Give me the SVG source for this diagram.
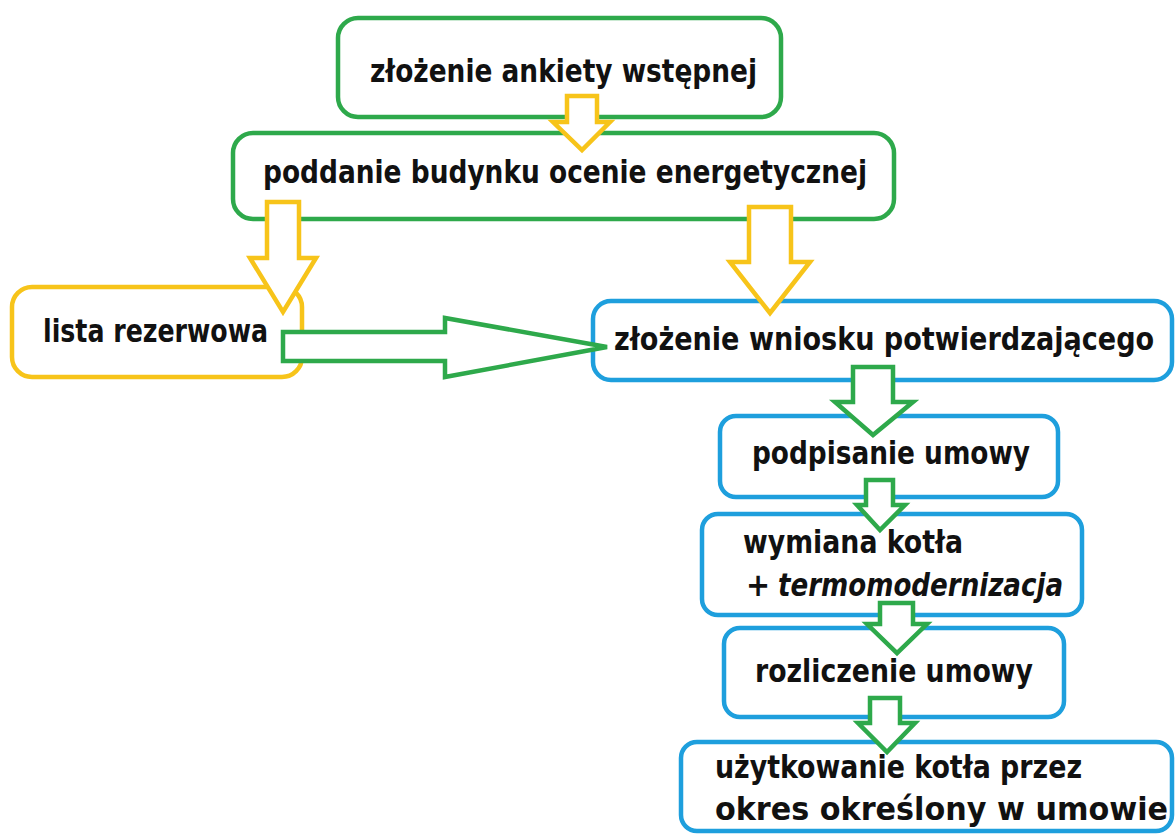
<svg xmlns="http://www.w3.org/2000/svg" width="1176" height="835" viewBox="0 0 1176 835">
<style>
  .box { fill: #ffffff; stroke-width: 4.5; }
  .g { stroke: #2ea94b; }
  .y { stroke: #f7c41a; }
  .b { stroke: #1e9fdd; }
  .arr { fill: #ffffff; stroke-width: 4.5; stroke-linejoin: miter; }
  .t { font-family: "DejaVu Sans Condensed", "DejaVu Sans", sans-serif; font-stretch: condensed; font-weight: bold; font-size: 32px; fill: #111111; }
  .it { font-style: italic; }
</style>
<rect width="1176" height="835" fill="#ffffff"/>

<g id="node-ankieta">
  <rect class="box g" x="338" y="18" width="443" height="99" rx="20"/>
  <text class="t" x="370" y="82" textLength="387" lengthAdjust="spacingAndGlyphs">złożenie ankiety wstępnej</text>
</g>
<g id="node-ocena">
  <rect class="box g" x="233" y="133" width="661" height="86" rx="20"/>
  <text class="t" x="263" y="183" textLength="604" lengthAdjust="spacingAndGlyphs">poddanie budynku ocenie energetycznej</text>
</g>
<g id="node-lista">
  <rect class="box y" x="12" y="287" width="290" height="90" rx="20"/>
  <text class="t" x="43" y="342" textLength="225" lengthAdjust="spacingAndGlyphs">lista rezerwowa</text>
</g>
<g id="node-wniosek">
  <rect class="box b" x="593" y="301" width="579" height="79" rx="18"/>
  <text class="t" transform="translate(614,350) scale(0.848,1)" x="0" y="0" textLength="637" lengthAdjust="spacingAndGlyphs">złożenie wniosku potwierdzającego</text>
</g>
<g id="node-umowa">
  <rect class="box b" x="720" y="416" width="338" height="81" rx="16"/>
  <text class="t" x="752" y="464" textLength="278" lengthAdjust="spacingAndGlyphs">podpisanie umowy</text>
</g>
<g id="node-wymiana">
  <rect class="box b" x="702" y="514" width="380" height="101" rx="16"/>
  <text class="t" x="743" y="553" textLength="220" lengthAdjust="spacingAndGlyphs">wymiana kotła</text>
  <text class="t" x="746" y="596" font-size="36">+</text>
  <text class="t it" x="778" y="596" textLength="285" lengthAdjust="spacingAndGlyphs">termomodernizacja</text>
</g>
<g id="node-rozliczenie">
  <rect class="box b" x="724" y="628" width="340" height="89" rx="16"/>
  <text class="t" x="755" y="682" textLength="278" lengthAdjust="spacingAndGlyphs">rozliczenie umowy</text>
</g>
<g id="node-uzytkowanie">
  <rect class="box b" x="681" y="742" width="491" height="89" rx="16"/>
  <text class="t" x="715" y="778" textLength="367" lengthAdjust="spacingAndGlyphs">użytkowanie kotła przez</text>
  <text class="t" x="715" y="820" textLength="453" lengthAdjust="spacingAndGlyphs">okres określony w umowie</text>
</g>

<g id="connectors">
  <path class="arr y" d="M567,96 L597,96 L597,122 L610,122 L582,150 L553,122 L567,122 Z"/>
  <path class="arr y" d="M267,202 L299,202 L299,258 L316,258 L283,312 L250,258 L267,258 Z"/>
  <path class="arr y" d="M749,207 L791,207 L791,262 L810,262 L770,313 L730,262 L749,262 Z"/>
  <path class="arr g" d="M283,332 L445,332 L445,318 L607,347 L445,377 L445,361 L283,361 Z"/>
  <path class="arr g" d="M853,367 L893,367 L893,402 L913,402 L873,435 L835,402 L853,402 Z"/>
  <path class="arr g" d="M866,480 L893,480 L893,505 L905,505 L880,530 L857,505 L866,505 Z"/>
  <path class="arr g" d="M880,603 L913,603 L913,624 L927,624 L897,653 L867,624 L880,624 Z"/>
  <path class="arr g" d="M870,698 L900,698 L900,723 L915,723 L887,752 L858,723 L870,723 Z"/>
</g>
</svg>
